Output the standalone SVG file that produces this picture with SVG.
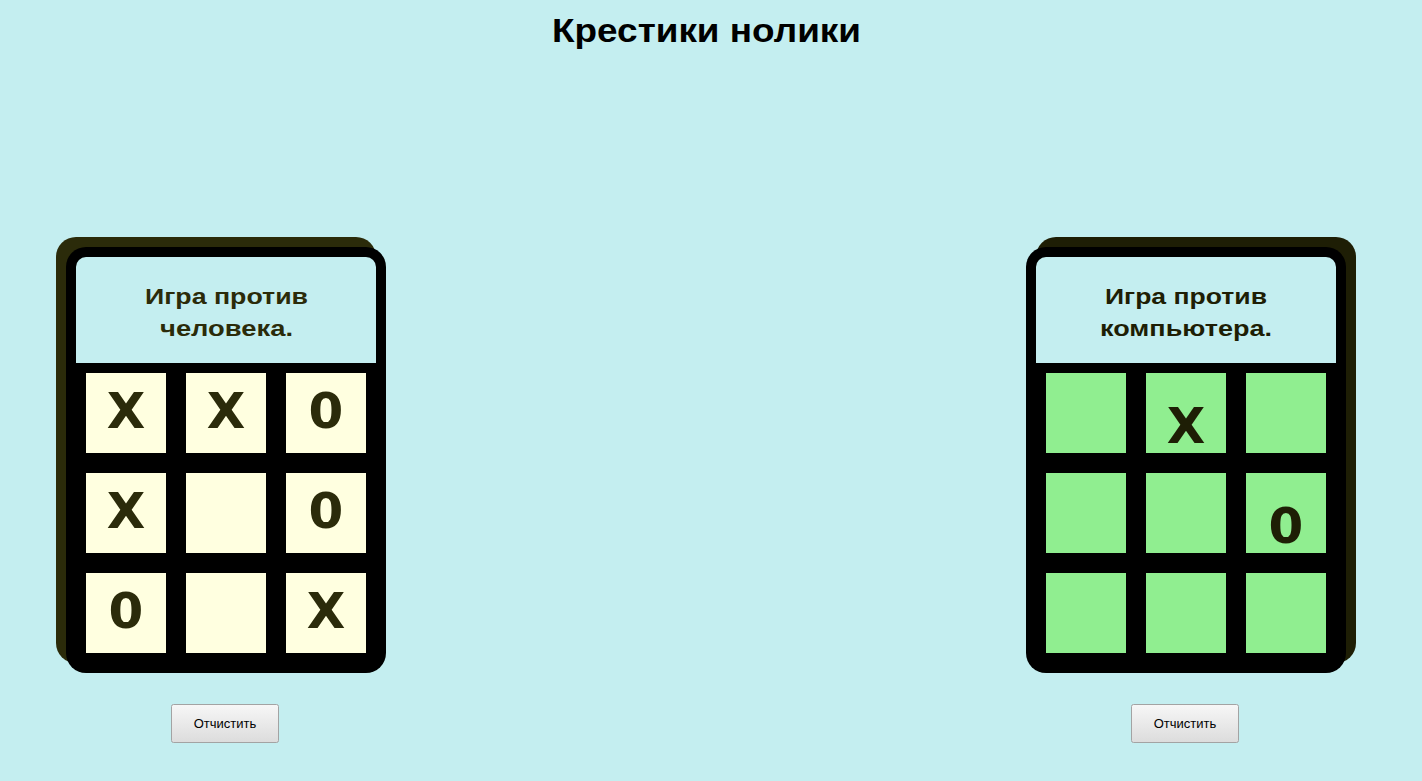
<svg xmlns="http://www.w3.org/2000/svg" width="1422" height="781" viewBox="0 0 1422 781">
<defs>
<linearGradient id="btn" x1="0" y1="0" x2="0" y2="1">
<stop offset="0" stop-color="#f7f7f7"/>
<stop offset="1" stop-color="#dcdcdc"/>
</linearGradient>
<style>
.title{font-family:"Liberation Sans",Arial,sans-serif;font-weight:bold;font-size:33px;fill:#000;}
.head{font-family:"Liberation Sans",Arial,sans-serif;font-weight:bold;font-size:22px;}
.mark{font-family:"DejaVu Sans",Verdana,sans-serif;font-weight:bold;font-size:50px;text-anchor:middle;}
.frame{fill:#000;}
.hdr{fill:#c4eef0;}
.cellY{fill:#ffffe0;}
.cellG{fill:#90ee90;}
.btn{fill:url(#btn);stroke:#a3a3a3;stroke-width:1;}
.btnt{font-family:"Liberation Sans",Arial,sans-serif;font-size:13px;fill:#000;text-anchor:middle;}
</style>
</defs>
<rect width="1422" height="781" fill="#c4eef0"/>
<text class="title" x="552" y="42" textLength="309" lengthAdjust="spacingAndGlyphs">Крестики нолики</text>

<g id="board-human">
<rect x="56" y="237" width="320" height="426" rx="20" fill="#2b2b0a"/>
<rect class="frame" x="66" y="247" width="320" height="426" rx="20"/>
<path class="hdr" d="M86 257 H366 A10 10 0 0 1 376 267 V363 H76 V267 A10 10 0 0 1 86 257 Z"/>
<g fill="#2b2b0a">
<text class="head" x="145" y="304" textLength="163" lengthAdjust="spacingAndGlyphs">Игра против</text>
<text class="head" x="160" y="336" textLength="133" lengthAdjust="spacingAndGlyphs">человека.</text>
</g>
<rect class="cellY" x="86" y="373" width="80" height="80"/>
<rect class="cellY" x="186" y="373" width="80" height="80"/>
<rect class="cellY" x="286" y="373" width="80" height="80"/>
<rect class="cellY" x="86" y="473" width="80" height="80"/>
<rect class="cellY" x="186" y="473" width="80" height="80"/>
<rect class="cellY" x="286" y="473" width="80" height="80"/>
<rect class="cellY" x="86" y="573" width="80" height="80"/>
<rect class="cellY" x="186" y="573" width="80" height="80"/>
<rect class="cellY" x="286" y="573" width="80" height="80"/>
<g fill="#2b2b0a">
<text class="mark" x="126" y="428">X</text>
<text class="mark" x="226" y="428">X</text>
<text class="mark" x="326" y="428">0</text>
<text class="mark" x="126" y="528">X</text>
<text class="mark" x="326" y="528">0</text>
<text class="mark" x="126" y="628">0</text>
<text class="mark" x="326" y="628">X</text>
</g>
</g>

<g id="board-computer">
<rect x="1036" y="237" width="320" height="426" rx="20" fill="#1e1e05"/>
<rect class="frame" x="1026" y="247" width="320" height="426" rx="20"/>
<path class="hdr" d="M1046 257 H1326 A10 10 0 0 1 1336 267 V363 H1036 V267 A10 10 0 0 1 1046 257 Z"/>
<g fill="#1e1e05">
<text class="head" x="1105" y="304" textLength="162" lengthAdjust="spacingAndGlyphs">Игра против</text>
<text class="head" x="1100" y="336" textLength="172" lengthAdjust="spacingAndGlyphs">компьютера.</text>
</g>
<rect class="cellG" x="1046" y="373" width="80" height="80"/>
<rect class="cellG" x="1146" y="373" width="80" height="80"/>
<rect class="cellG" x="1246" y="373" width="80" height="80"/>
<rect class="cellG" x="1046" y="473" width="80" height="80"/>
<rect class="cellG" x="1146" y="473" width="80" height="80"/>
<rect class="cellG" x="1246" y="473" width="80" height="80"/>
<rect class="cellG" x="1046" y="573" width="80" height="80"/>
<rect class="cellG" x="1146" y="573" width="80" height="80"/>
<rect class="cellG" x="1246" y="573" width="80" height="80"/>
<g fill="#1e1e05">
<text class="mark" x="1186" y="443">X</text>
<text class="mark" x="1286" y="543">0</text>
</g>
</g>

<g id="button-human">
<rect class="btn" x="171.5" y="704.5" width="107" height="38" rx="2"/>
<text class="btnt" x="225" y="728">Отчистить</text>
</g>
<g id="button-computer">
<rect class="btn" x="1131.5" y="704.5" width="107" height="38" rx="2"/>
<text class="btnt" x="1185" y="728">Отчистить</text>
</g>
<g id="connectors"/>
</svg>
